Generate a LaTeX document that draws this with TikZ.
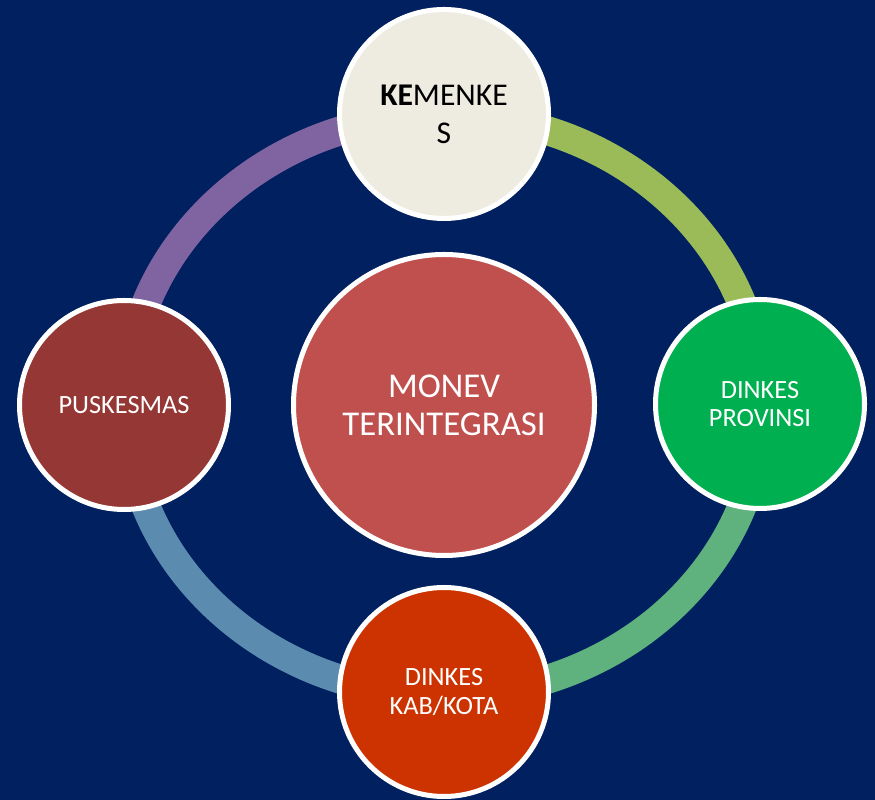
\documentclass[tikz,border=0pt]{standalone}
\usepackage{fontspec}
\setmainfont{Carlito}

\definecolor{navy}{HTML}{002060}
\definecolor{olivegreen}{HTML}{9BBB59}
\definecolor{seagreen}{HTML}{5FB17D}
\definecolor{steelblue}{HTML}{5B8BAF}
\definecolor{lavender}{HTML}{8064A2}
\definecolor{paper}{HTML}{EEECE1}
\definecolor{leafgreen}{HTML}{00B050}
\definecolor{brickred}{HTML}{CC3300}
\definecolor{maroon}{HTML}{953735}
\definecolor{rosered}{HTML}{C0504D}

\tikzset{
  bubble/.style={circle, draw=white, line width=2.85pt, minimum size=4.18cm,
    align=center, text=white, font=\fontsize{15}{16.3}\selectfont},
  hub/.style={bubble, minimum size=6.02cm, font=\fontsize{19.8}{21.6}\selectfont},
  ringpart/.style={line width=0.58cm}
}

\begin{document}
\begin{tikzpicture}
\fill[navy] (0,0) rectangle (17.5,16);
\useasboundingbox (0,0) rectangle (17.5,16);

% the ring, one colour per quarter
\coordinate (c) at (8.88,7.9);
\draw[ringpart, olivegreen] (c) ++(6.36,0) arc[start angle=0, end angle=90, x radius=6.36, y radius=5.8];
\draw[ringpart, lavender] (c) ++(0,5.8) arc[start angle=90, end angle=180, x radius=6.36, y radius=5.8];
\draw[ringpart, steelblue] (c) ++(-6.36,0) arc[start angle=180, end angle=270, x radius=6.36, y radius=5.8];
\draw[ringpart, seagreen] (c) ++(0,-5.8) arc[start angle=270, end angle=360, x radius=6.36, y radius=5.8];

\node[hub, fill=rosered] (monev) at (c) {MONEV\\TERINTEGRASI};
\node[bubble, fill=paper, text=black, font=\fontsize{18}{21.6}\selectfont] (kemenkes) at (8.88,13.72) {\textbf{KE}MENKE\\S};
\node[bubble, fill=leafgreen] (provinsi) at (15.2,7.92) {DINKES\\PROVINSI};
\node[bubble, fill=brickred] (kabkota) at (8.88,2.16) {DINKES\\KAB/KOTA};
\node[bubble, fill=maroon] (puskesmas) at (2.48,7.9) {PUSKESMAS};
\end{tikzpicture}
\end{document}
